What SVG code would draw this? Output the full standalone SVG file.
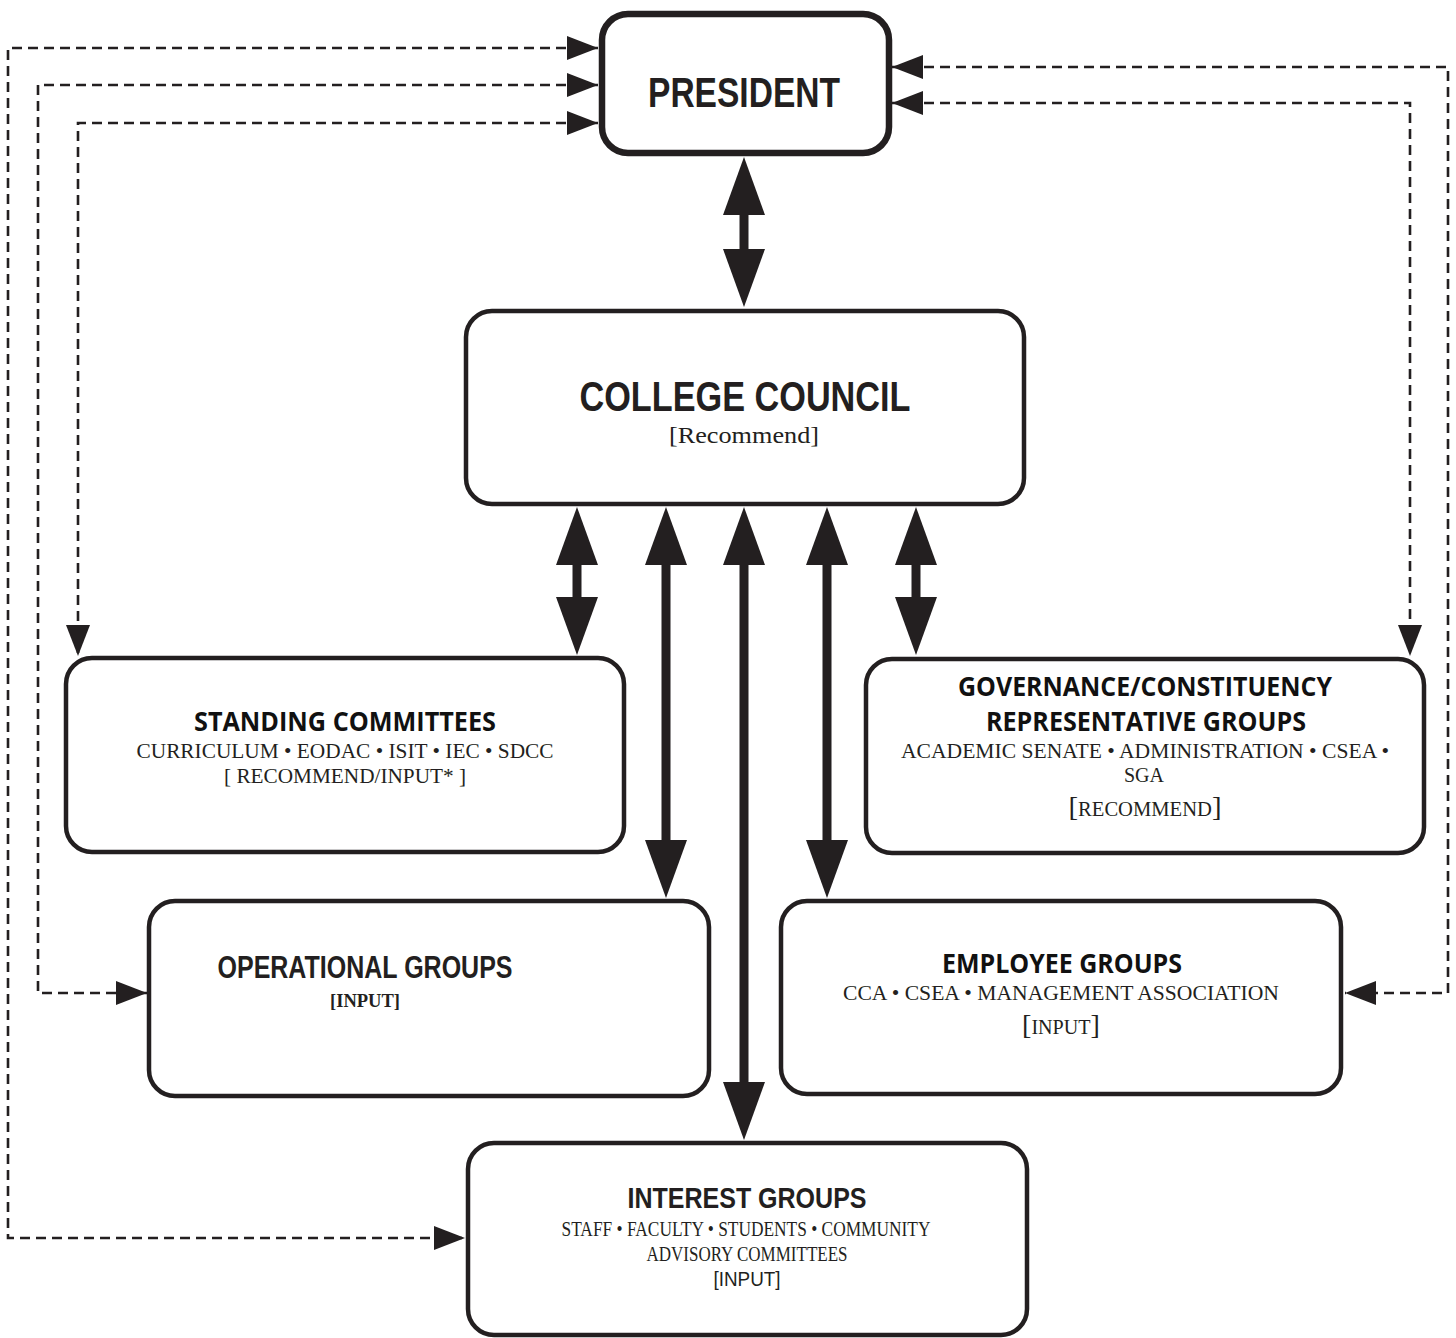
<svg xmlns="http://www.w3.org/2000/svg" width="1456" height="1338" viewBox="0 0 1456 1338">
<style>
.box{fill:#fff;stroke:#231f20;stroke-width:4.5}
.pbox{fill:#fff;stroke:#231f20;stroke-width:6.5}
.dash{fill:none;stroke:#231f20;stroke-width:2.6;stroke-dasharray:10 6}
.shaft{stroke:#231f20;stroke-width:9;fill:none}
.cond{font-family:"Liberation Sans",Arial,sans-serif;font-weight:700;fill:#231f20;text-anchor:middle}
.head{font-family:"Open Sans",Lato,sans-serif;font-weight:700;fill:#111;text-anchor:middle}
.ser{font-family:"Liberation Serif","Times New Roman",serif;fill:#231f20;text-anchor:middle}
</style>
<defs>
<marker id="da" markerUnits="userSpaceOnUse" markerWidth="34" markerHeight="26" refX="31" refY="12" orient="auto-start-reverse" viewBox="0 0 34 26">
<path d="M0,0 L31,12 L0,24 z" fill="#231f20"/>
</marker>
<marker id="ta" markerUnits="userSpaceOnUse" markerWidth="60" markerHeight="44" refX="0" refY="21" orient="auto-start-reverse" viewBox="0 0 60 44">
<path d="M0,0 L58,21 L0,42 z" fill="#231f20"/>
</marker>
</defs>

<g id="connectors">
<path class="dash" d="M598,48 H8 V1238 H465" marker-start="url(#da)" marker-end="url(#da)"/>
<path class="dash" d="M598,85 H38 V993 H147" marker-start="url(#da)" marker-end="url(#da)"/>
<path class="dash" d="M598,123 H78 V656" marker-start="url(#da)" marker-end="url(#da)"/>
<path class="dash" d="M892,67 H1448 V993 H1345" marker-start="url(#da)" marker-end="url(#da)"/>
<path class="dash" d="M892,103 H1410 V656" marker-start="url(#da)" marker-end="url(#da)"/>
<line class="shaft" x1="744" y1="215" x2="744" y2="249" marker-start="url(#ta)" marker-end="url(#ta)"/>
<line class="shaft" x1="577" y1="565" x2="577" y2="597" marker-start="url(#ta)" marker-end="url(#ta)"/>
<line class="shaft" x1="666" y1="565" x2="666" y2="840" marker-start="url(#ta)" marker-end="url(#ta)"/>
<line class="shaft" x1="744" y1="565" x2="744" y2="1082" marker-start="url(#ta)" marker-end="url(#ta)"/>
<line class="shaft" x1="827" y1="565" x2="827" y2="840" marker-start="url(#ta)" marker-end="url(#ta)"/>
<line class="shaft" x1="916" y1="565" x2="916" y2="597" marker-start="url(#ta)" marker-end="url(#ta)"/>
</g>

<g id="president">
<rect class="pbox" x="602" y="14" width="287" height="139" rx="26"/>
<text class="cond" x="744" y="107" font-size="42" textLength="192" lengthAdjust="spacingAndGlyphs">PRESIDENT</text>
</g>

<g id="college-council">
<rect class="box" x="466" y="311" width="558" height="193" rx="26"/>
<text class="cond" x="745" y="411" font-size="42" textLength="331" lengthAdjust="spacingAndGlyphs">COLLEGE COUNCIL</text>
<text class="ser" x="744" y="443" font-size="23" textLength="150" lengthAdjust="spacingAndGlyphs">[Recommend]</text>
</g>

<g id="standing-committees">
<rect class="box" x="66" y="658" width="558" height="194" rx="26"/>
<text class="head" x="345" y="731" font-size="26" textLength="302" lengthAdjust="spacingAndGlyphs">STANDING COMMITTEES</text>
<text class="ser" x="345" y="758" font-size="20" textLength="417" lengthAdjust="spacingAndGlyphs">CURRICULUM • EODAC • ISIT • IEC • SDCC</text>
<text class="ser" x="345" y="783" font-size="20" textLength="242" lengthAdjust="spacingAndGlyphs">[ RECOMMEND/INPUT* ]</text>
</g>

<g id="governance">
<rect class="box" x="866" y="659" width="558" height="194" rx="26"/>
<text class="head" x="1145" y="696" font-size="26" textLength="374" lengthAdjust="spacingAndGlyphs">GOVERNANCE/CONSTITUENCY</text>
<text class="head" x="1146" y="731" font-size="26" textLength="320" lengthAdjust="spacingAndGlyphs">REPRESENTATIVE GROUPS</text>
<text class="ser" x="1145" y="758" font-size="20" textLength="488" lengthAdjust="spacingAndGlyphs">ACADEMIC SENATE • ADMINISTRATION • CSEA •</text>
<text class="ser" x="1144" y="782" font-size="20">SGA</text>
<text class="ser" x="1145" y="816" font-size="20" textLength="153" lengthAdjust="spacingAndGlyphs"><tspan font-size="28">[</tspan>RECOMMEND<tspan font-size="28">]</tspan></text>
</g>

<g id="operational-groups">
<rect class="box" x="149" y="901" width="560" height="195" rx="26"/>
<text class="cond" x="365" y="978" font-size="31" textLength="295" lengthAdjust="spacingAndGlyphs">OPERATIONAL GROUPS</text>
<text class="ser" x="365" y="1007" font-size="19" font-weight="700" textLength="70" lengthAdjust="spacingAndGlyphs">[INPUT]</text>
</g>

<g id="employee-groups">
<rect class="box" x="781" y="901" width="560" height="193" rx="26"/>
<text class="head" x="1062" y="973" font-size="26" textLength="240" lengthAdjust="spacingAndGlyphs">EMPLOYEE GROUPS</text>
<text class="ser" x="1061" y="1000" font-size="20" textLength="436" lengthAdjust="spacingAndGlyphs">CCA • CSEA • MANAGEMENT ASSOCIATION</text>
<text class="ser" x="1061" y="1034" font-size="20" textLength="78" lengthAdjust="spacingAndGlyphs"><tspan font-size="28">[</tspan>INPUT<tspan font-size="28">]</tspan></text>
</g>

<g id="interest-groups">
<rect class="box" x="468" y="1143" width="559" height="192" rx="26"/>
<text class="cond" x="747" y="1208" font-size="30" textLength="239" lengthAdjust="spacingAndGlyphs">INTEREST GROUPS</text>
<text class="ser" x="746" y="1236" font-size="21" textLength="369" lengthAdjust="spacingAndGlyphs">STAFF • FACULTY • STUDENTS • COMMUNITY</text>
<text class="ser" x="747" y="1261" font-size="21" textLength="201" lengthAdjust="spacingAndGlyphs">ADVISORY COMMITTEES</text>
<text x="747" y="1286" font-family="'Liberation Sans',Arial,sans-serif" font-size="20" fill="#231f20" text-anchor="middle" textLength="67" lengthAdjust="spacingAndGlyphs">[INPUT]</text>
</g>
</svg>
